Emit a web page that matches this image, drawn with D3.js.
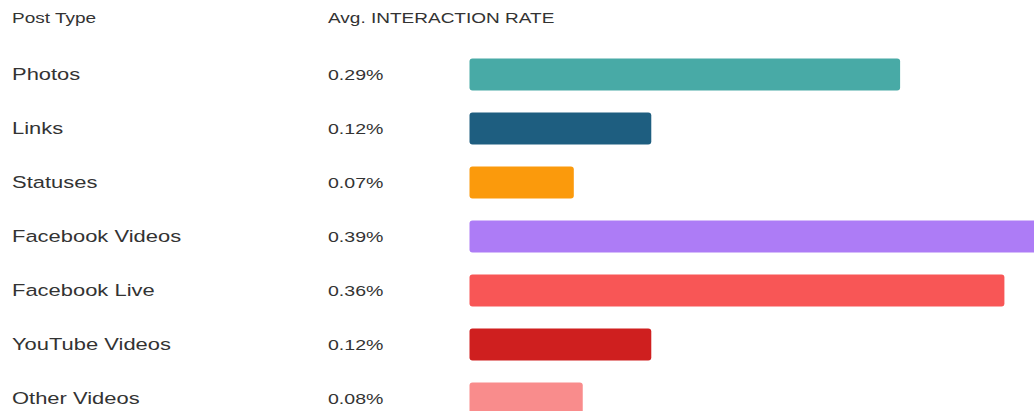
<!DOCTYPE html>
<html>
<head>
<meta charset="utf-8">
<script src="https://cdn.jsdelivr.net/npm/d3@7"></script>
<style>
  html, body { margin: 0; padding: 0; background: #ffffff; }
  svg { display: block; }
  text { font-family: "Liberation Sans", Arial, sans-serif; fill: #333333; }
</style>
</head>
<body>
<svg id="chart" width="1034" height="411"></svg>
<script>
const categories = ["Photos", "Links", "Statuses", "Facebook Videos", "Facebook Live", "YouTube Videos", "Other Videos"];
const values = [0.289, 0.122, 0.070, 0.39, 0.359, 0.122, 0.076];
const colors = ["#48aaa6", "#1e5e80", "#fb9a0c", "#ad7cf6", "#f85656", "#cf1f1f", "#f98c8c"];
const headers = ["Post Type", "Avg. INTERACTION RATE"];

const svg = d3.select("#chart");
const stretch = 1.33;

const barX0 = 469.5;
const x = d3.scaleLinear().domain([0, 0.4]).range([0, 596]);
const y = d3.scaleBand().domain(categories).range([47.5, 425.5]).paddingInner(0.41).paddingOuter(0.205);

const fmt = v => v.toFixed(2) + "%";

// headers
svg.selectAll("text.header").data(headers).join("text")
  .attr("class", "header")
  .attr("transform", (d, i) => `translate(${i === 0 ? 12 : 328},18) scale(${stretch},1)`)
  .attr("dominant-baseline", "central")
  .style("font-size", "14.3px")
  .text(d => d);

const rows = svg.selectAll("g.row").data(categories).join("g").attr("class", "row");

rows.append("rect")
  .attr("x", barX0)
  .attr("y", d => y(d))
  .attr("height", y.bandwidth())
  .attr("width", (d, i) => x(values[i]))
  .attr("rx", 3).attr("ry", 3)
  .attr("fill", (d, i) => colors[i]);

rows.append("text")
  .attr("transform", d => `translate(12,${y(d) + y.bandwidth() / 2}) scale(${stretch},1)`)
  .attr("dominant-baseline", "central")
  .style("font-size", "16.5px")
  .text(d => d);

rows.append("text")
  .attr("transform", d => `translate(328,${y(d) + y.bandwidth() / 2}) scale(${stretch},1)`)
  .attr("dominant-baseline", "central")
  .style("font-size", "14.7px")
  .text((d, i) => fmt(values[i]));
</script>
</body>
</html>
